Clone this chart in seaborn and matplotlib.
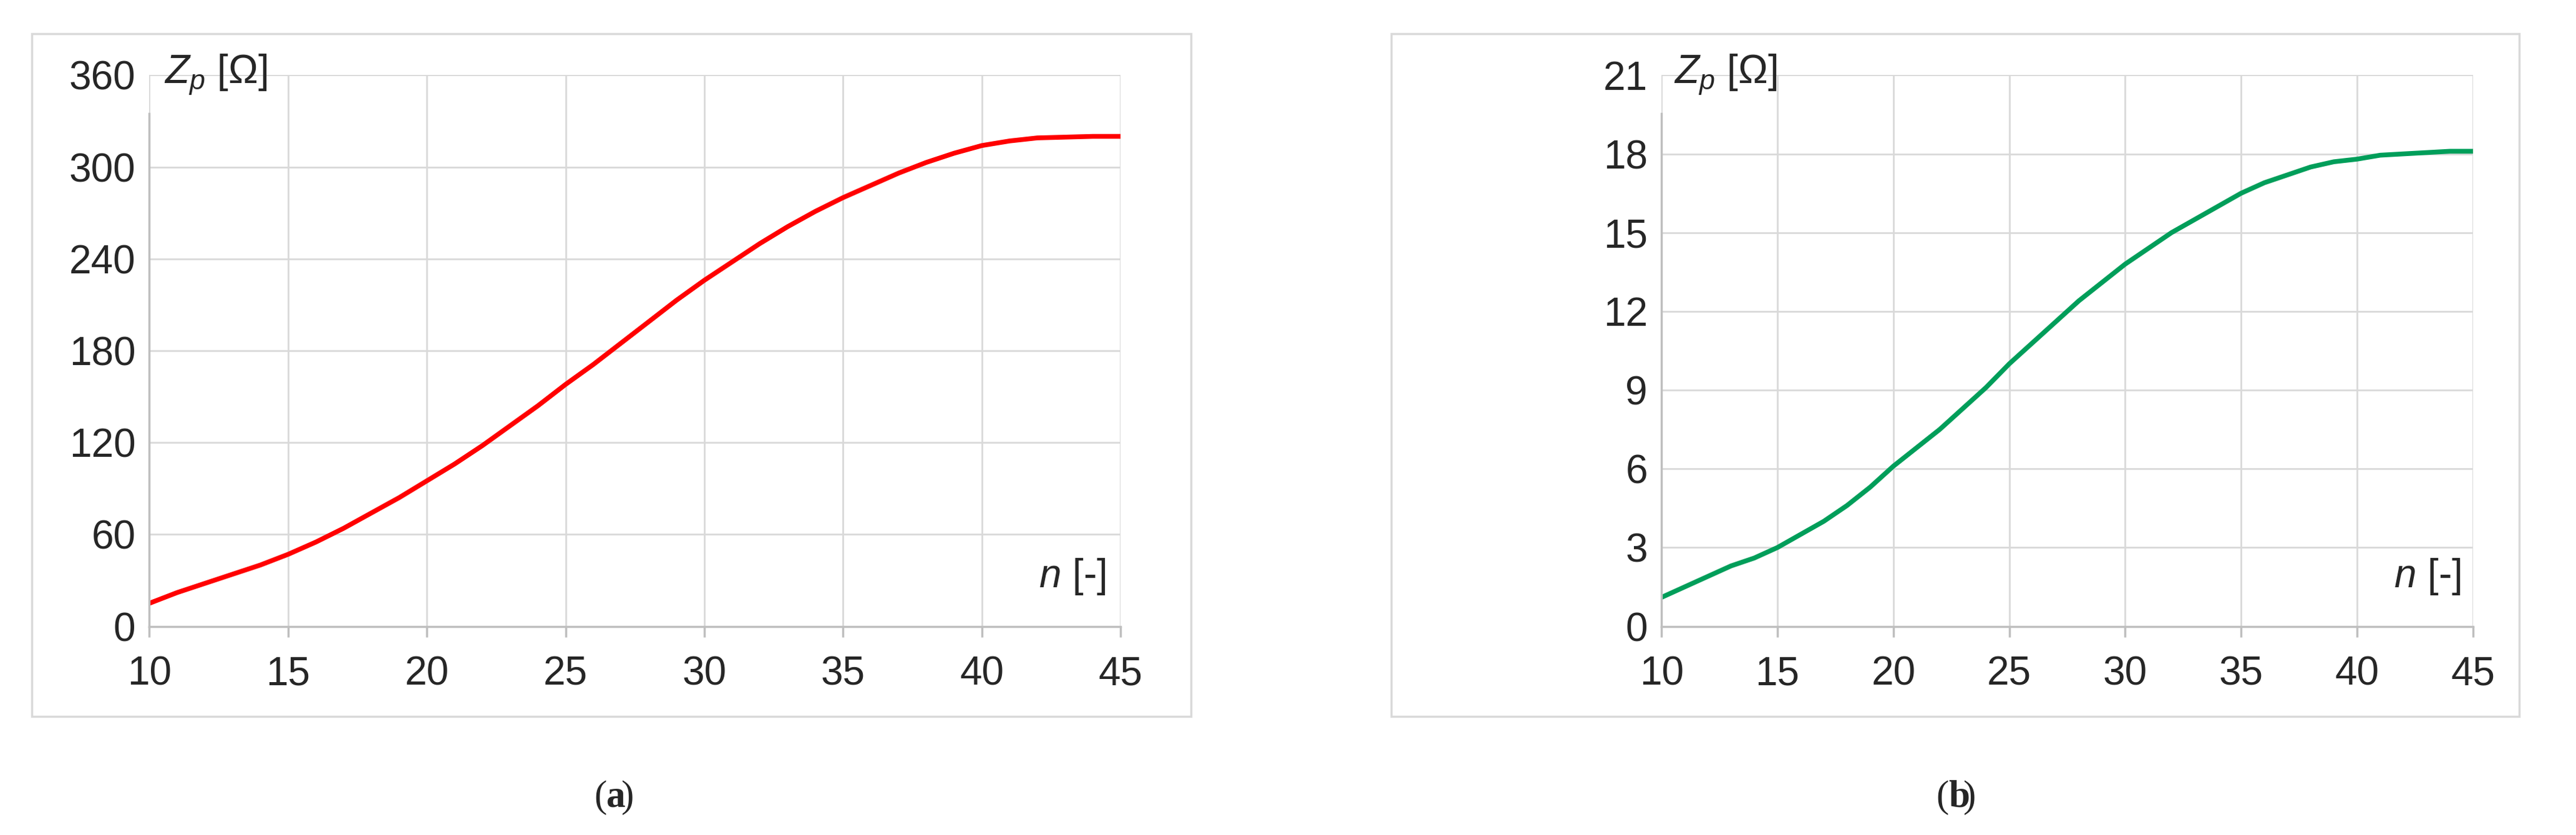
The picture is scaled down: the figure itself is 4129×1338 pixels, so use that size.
import matplotlib
matplotlib.use("Agg")
import matplotlib.pyplot as plt
import seaborn as sns
from matplotlib.patches import Rectangle

n_a = [10, 11, 12, 13, 14, 15, 16, 17, 18, 19, 20, 21, 22, 23, 24, 25, 26, 27, 28, 29, 30,
       31, 32, 33, 34, 35, 36, 37, 38, 39, 40, 41, 42, 43, 44, 45]
z_a = [15, 22, 28, 34, 40, 47, 55, 64, 74, 84, 95, 106, 118, 131, 144, 158, 171, 185, 199, 213, 226,
       238, 250, 261, 271, 280, 288, 296, 303, 309, 314, 317, 319, 319.5, 320, 320]
n_b = n_a
z_b = [1.1, 1.5, 1.9, 2.3, 2.6, 3.0, 3.5, 4.0, 4.6, 5.3, 6.1, 6.8, 7.5, 8.3, 9.1, 10.0, 10.8, 11.6, 12.4, 13.1, 13.8,
       14.4, 15.0, 15.5, 16.0, 16.5, 16.9, 17.2, 17.5, 17.7, 17.8, 17.95, 18.0, 18.05, 18.1, 18.1]

sns.set_theme(style="white")
plt.rcParams['font.family'] = ['Liberation Sans', 'DejaVu Sans']
plt.rcParams['mathtext.fontset'] = 'custom'
plt.rcParams['mathtext.it'] = 'Liberation Sans:italic'
plt.rcParams['mathtext.rm'] = 'Liberation Sans'

fig = plt.figure(figsize=(41.29, 13.38), dpi=100)
grid_c = '#d9d9d9'
fs = 46


def panel(rect, frame, x, y, color, ymax, ystep):
    fig.patches.append(Rectangle((frame[0], frame[1]), frame[2], frame[3], transform=fig.transFigure,
                                 fill=False, edgecolor=grid_c, lw=2.5))
    ax = fig.add_axes(rect)
    sns.lineplot(x=x, y=y, ax=ax, color=color, lw=5.5)
    ax.set_xlim(10, 45)
    ax.set_ylim(0, ymax)
    ax.set_xticks(range(10, 46, 5))
    ax.set_yticks([ystep * i for i in range(8) if ystep * i <= ymax])
    ax.grid(True, color=grid_c, lw=2)
    for s in ['top', 'right']:
        ax.spines[s].set_visible(False)
    for s in ['left', 'bottom']:
        ax.spines[s].set_color('#bfbfbf')
        ax.spines[s].set_linewidth(2.5)
    ax.spines['left'].set_bounds(0, ymax * 0.93)
    ax.tick_params(axis='x', length=12, width=2.5, color='#bfbfbf', labelsize=fs, pad=22,
                   direction='out', bottom=True)
    ax.tick_params(axis='y', length=0, labelsize=fs, pad=16)
    ax.set_xlabel('')
    ax.set_ylabel('')
    ax.text(0.015, 1.0, r'$Z_p$ [Ω]', transform=ax.transAxes, fontsize=fs, va='center', ha='left')
    ax.text(0.985, 0.09, r'$n$ [-]', transform=ax.transAxes, fontsize=fs, va='center', ha='right')
    return ax


def caption(xc, cap):
    t1 = fig.text(xc, 0.045, '(', fontsize=44, family='Liberation Serif', ha='right', va='center')
    fig.text(xc, 0.045, cap, fontsize=44, family='Liberation Serif', weight='bold', ha='left', va='center')
    fig.text(xc + 0.0055, 0.045, ')', fontsize=44, family='Liberation Serif', ha='left', va='center')


ax1 = panel([0.058, 0.25, 0.377, 0.66], [0.0124, 0.142, 0.450, 0.818], n_a, z_a, '#ff0000', 360, 60)
ax2 = panel([0.645, 0.25, 0.315, 0.66], [0.540, 0.142, 0.438, 0.818], n_b, z_b, '#009e5a', 21, 3)
caption(0.2355, 'a')
caption(0.7565, 'b')

fig.savefig('out.png', dpi=100, facecolor='white')
